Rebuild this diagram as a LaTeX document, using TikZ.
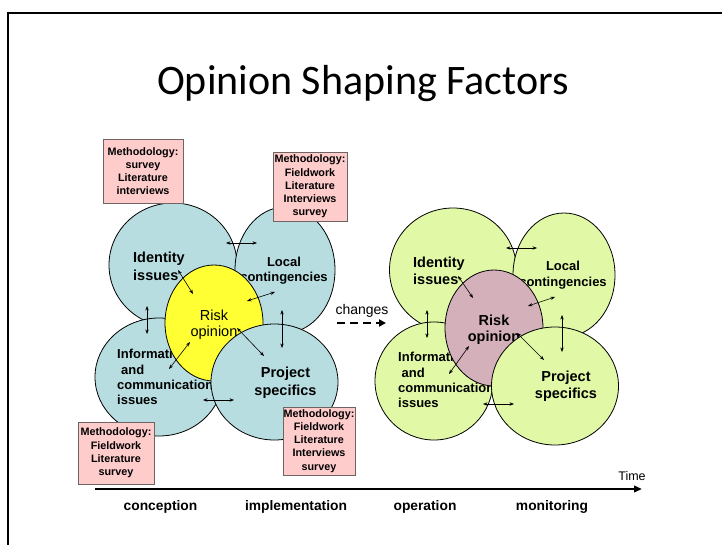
\documentclass[tikz,border=0pt]{standalone}
\usepackage{fontspec}
\setmainfont{Liberation Sans}
\newfontfamily\titlefont{Carlito}
\usetikzlibrary{shapes.geometric,arrows.meta}
\definecolor{cblue}{RGB}{183,221,224}
\definecolor{cyel}{RGB}{255,255,51}
\definecolor{cgreen}{RGB}{225,249,166}
\definecolor{cmauve}{RGB}{212,176,186}
\definecolor{cpink}{RGB}{255,204,204}
\definecolor{cbord}{RGB}{110,100,100}
\begin{document}
\begin{tikzpicture}[x=1pt,y=-1pt,
  ell/.style={ellipse, draw=black, line width=0.8pt, inner sep=0pt, outer sep=0pt},
  lblA/.style={inner sep=0pt, font=\bfseries\fontsize{14.5}{17.5}\selectfont},
  lblB/.style={inner sep=0pt, font=\bfseries\fontsize{13}{15.2}\selectfont},
  lblR/.style={inner sep=0pt, font=\fontsize{14.5}{16}\selectfont},
  mbox/.style={draw=cbord, fill=cpink, line width=0.8pt, inner sep=0pt, align=center,
    font=\bfseries\fontsize{10.8}{13.2}\selectfont},
  dbl/.style={{Stealth[length=4.5pt,width=3.4pt]}-{Stealth[length=4.5pt,width=3.4pt]}, line width=0.6pt},
  tl/.style={inner sep=0pt, font=\bfseries\fontsize{13.8}{16}\selectfont}]
\useasboundingbox (0,0) rectangle (722,545);
% frame
\coordinate (f1) at (8,545);
\coordinate (f2) at (8,13);
\coordinate (f3) at (722,13);
\draw[line width=2.2pt] (f1) -- (f2) -- (f3);
% title
\node[inner sep=0pt, anchor=base, font=\titlefont\fontsize{42}{48}\selectfont] (title) at (363,95) {Opinion Shaping Factors};

% ---------- left cluster ----------
\node[ell, fill=cblue, minimum width=128pt, minimum height=124pt] (idL) at (173,265) {};
\node[lblA, anchor=west, align=left] (idLt) at (133,266.5) {Identity\\issues};
\node[ell, fill=cblue, minimum width=100pt, minimum height=126pt] (loL) at (285,270) {};
\node[lblB, align=center] (loLt) at (284,271) {Local\\contingencies};
\node[ell, fill=cblue, minimum width=128pt, minimum height=118pt] (inL) at (159,377) {};
\node[lblB, anchor=west, align=left] (inLt) at (117,377) {Information\\\hspace*{4pt}and\\communication\\issues};
\node[ell, fill=cyel, minimum width=98pt, minimum height=116pt] (riL) at (214,323) {};
\node[lblR, align=center] (riLt) at (214,325) {Risk\\opinion};
\node[ell, fill=cblue, minimum width=127pt, minimum height=116pt] (prL) at (274.5,382) {};
\node[lblA, align=center] (prLt) at (285.5,382.5) {Project\\specifics};

% ---------- right cluster ----------
\node[ell, fill=cgreen, minimum width=127pt, minimum height=124pt] (idR) at (453,270) {};
\node[lblA, anchor=west, align=left] (idRt) at (413,271) {Identity\\issues};
\node[ell, fill=cgreen, minimum width=102pt, minimum height=124pt] (loR) at (564,275) {};
\node[lblB, align=center, font=\bfseries\fontsize{13}{16}\selectfont] (loRt) at (563,275) {Local\\contingencies};
\node[ell, fill=cgreen, minimum width=118pt, minimum height=118pt] (inR) at (434,381) {};
\node[lblB, anchor=west, align=left] (inRt) at (398,380) {Information\\\hspace*{3.5pt}and\\communication\\issues};
\node[ell, fill=cmauve, minimum width=98pt, minimum height=116pt] (riR) at (494,328) {};
\node[lblA, align=center, font=\bfseries\fontsize{14.5}{16}\selectfont] (riRt) at (494,330) {Risk\\opinion};
\node[ell, fill=cgreen, minimum width=127pt, minimum height=118pt] (prR) at (555,386) {};
\node[lblA, align=center, font=\bfseries\fontsize{14.5}{16.5}\selectfont] (prRt) at (566,386) {Project\\specifics};

% ---------- methodology boxes ----------
\node[mbox, minimum width=80pt, minimum height=64pt] (b1) at (143,171) {Methodology:\\survey\\Literature\\interviews};
\node[mbox, minimum width=74pt, minimum height=69pt] (b2) at (310,186.5) {Methodology:\\Fieldwork\\Literature\\Interviews\\survey};
\node[mbox, minimum width=76pt, minimum height=62pt] (b3) at (116,453) {Methodology:\\Fieldwork\\Literature\\survey};
\node[mbox, minimum width=72pt, minimum height=68pt] (b4) at (319,441) {Methodology:\\Fieldwork\\Literature\\Interviews\\survey};

% ---------- left arrows ----------
\coordinate (l1a) at (226,243); \coordinate (l1b) at (257,243);
\coordinate (l2a) at (178,270); \coordinate (l2b) at (193,294);
\coordinate (l3a) at (247,301); \coordinate (l3b) at (275,292);
\coordinate (l4a) at (147,306); \coordinate (l4b) at (147,334);
\coordinate (l5a) at (282,310); \coordinate (l5b) at (282,348);
\coordinate (l6a) at (190,342); \coordinate (l6b) at (169,369);
\coordinate (l7a) at (237,328); \coordinate (l7b) at (264,356);
\coordinate (l8a) at (203,400); \coordinate (l8b) at (234,400);
\foreach \k in {1,...,8} \draw[dbl] (l\k a) -- (l\k b);

% ---------- right arrows ----------
\coordinate (r1a) at (506,248); \coordinate (r1b) at (537,248);
\coordinate (r2a) at (458,276); \coordinate (r2b) at (473,298);
\coordinate (r3a) at (528,306); \coordinate (r3b) at (555,297);
\coordinate (r4a) at (427,310); \coordinate (r4b) at (427,338);
\coordinate (r5a) at (562,315); \coordinate (r5b) at (562,352);
\coordinate (r6a) at (469,346); \coordinate (r6b) at (449,374);
\coordinate (r7a) at (517,333); \coordinate (r7b) at (544,360);
\coordinate (r8a) at (483,404); \coordinate (r8b) at (514,404);
\foreach \k in {1,...,8} \draw[dbl] (r\k a) -- (r\k b);

% ---------- changes ----------
\node[inner sep=0pt, font=\fontsize{14}{16}\selectfont] (chg) at (362,311) {changes};
\coordinate (ch1) at (337,323); \coordinate (ch2) at (386,323);
\draw[line width=2.4pt, dash pattern=on 8pt off 5pt, -{Triangle[length=7pt,width=7pt]}] (ch1) -- (ch2);

% ---------- time axis ----------
\coordinate (t1) at (95,489); \coordinate (t2) at (642,489);
\draw[line width=2pt, -{Triangle[length=8pt,width=6.5pt]}] (t1) -- (t2);
\node[inner sep=0pt, font=\fontsize{12.5}{14}\selectfont] (time) at (632,476) {Time};
\node[tl] (p1) at (160.5,507) {conception};
\node[tl] (p2) at (296,507) {implementation};
\node[tl] (p3) at (425,507) {operation};
\node[tl] (p4) at (552,507) {monitoring};
\end{tikzpicture}
\end{document}
